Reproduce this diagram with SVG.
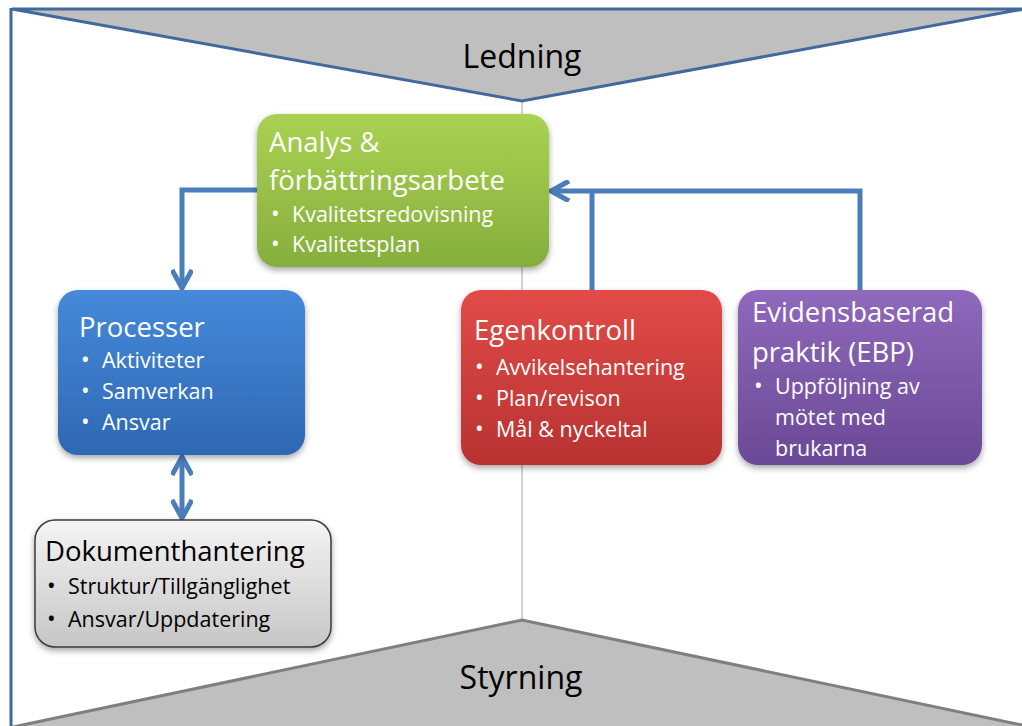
<svg xmlns="http://www.w3.org/2000/svg" width="1022" height="726" viewBox="0 0 1022 726">
<style>
  .t{font-family:"Open Sans","Noto Sans","DejaVu Sans",sans-serif;fill:#fff}
  .h{font-size:27.5px}
  .b{font-size:21.5px}
  .d{font-size:23px}
  .dk{fill:#000}
  .big{font-family:"Open Sans","Noto Sans",sans-serif;font-size:32px;fill:#000}
  .conn{fill:none;stroke:#4a7ebb;stroke-width:5}
</style>
<defs>
  <filter id="sh" x="-10%" y="-10%" width="120%" height="130%">
    <feDropShadow dx="0" dy="3" stdDeviation="3" flood-color="#000" flood-opacity="0.35"/>
  </filter>
  <linearGradient id="gG" x1="0" y1="0" x2="0" y2="1"><stop offset="0" stop-color="#a9d253"/><stop offset="1" stop-color="#86ae3c"/></linearGradient>
  <linearGradient id="gB" x1="0" y1="0" x2="0" y2="1"><stop offset="0" stop-color="#4689da"/><stop offset="1" stop-color="#2e68b3"/></linearGradient>
  <linearGradient id="gR" x1="0" y1="0" x2="0" y2="1"><stop offset="0" stop-color="#e24b48"/><stop offset="1" stop-color="#b83231"/></linearGradient>
  <linearGradient id="gP" x1="0" y1="0" x2="0" y2="1"><stop offset="0" stop-color="#8f69bc"/><stop offset="1" stop-color="#6a4995"/></linearGradient>
  <linearGradient id="gK" x1="0" y1="0" x2="0" y2="1"><stop offset="0" stop-color="#f4f4f4"/><stop offset="1" stop-color="#c6c6c6"/></linearGradient>
  <marker id="ah" markerUnits="userSpaceOnUse" viewBox="0 0 22 22" refX="20" refY="11" markerWidth="22" markerHeight="22" orient="auto-start-reverse">
    <path d="M2,1 L20,11 L2,21" fill="none" stroke="#4a7ebb" stroke-width="5"/>
  </marker>
</defs>
<rect width="1022" height="726" fill="#fff"/>
<g id="frame">
  <line x1="522" y1="101" x2="522" y2="620" stroke="#a6a6a6" stroke-width="1"/>
  <polygon points="12,9 1024,9 522,101" fill="#bfbfbf" stroke="#41699c" stroke-width="3"/>
  <line x1="11" y1="8" x2="11" y2="726" stroke="#41699c" stroke-width="3"/>
  <polygon points="8,728 522,620 1036,728" fill="#bfbfbf" stroke="#7f7f7f" stroke-width="3"/>
  <text class="big" x="522" y="68" text-anchor="middle">Ledning</text>
  <text class="big" x="521" y="689" text-anchor="middle">Styrning</text>
</g>
<g id="connectors">
  <polyline class="conn" points="257,190 182,190 182,288" marker-end="url(#ah)"/>
  <line class="conn" x1="182" y1="457" x2="182" y2="518" marker-start="url(#ah)" marker-end="url(#ah)"/>
  <line class="conn" x1="592" y1="291" x2="592" y2="191"/>
  <polyline class="conn" points="860,291 860,191 551,191" marker-end="url(#ah)"/>
</g>
<g id="analys">
  <rect x="257" y="114" width="292" height="153" rx="20" fill="url(#gG)" filter="url(#sh)"/>
  <text class="t h" x="269" y="152">Analys &amp;</text>
  <text class="t h" x="269" y="190">förbättringsarbete</text>
  <text class="t d" x="271" y="222">•</text><text class="t b" x="292" y="222">Kvalitetsredovisning</text>
  <text class="t d" x="271" y="252">•</text><text class="t b" x="292" y="252">Kvalitetsplan</text>
</g>
<g id="processer">
  <rect x="58" y="290" width="247" height="165" rx="20" fill="url(#gB)" filter="url(#sh)"/>
  <text class="t h" x="79" y="337">Processer</text>
  <text class="t d" x="81" y="368">•</text><text class="t b" x="102" y="368">Aktiviteter</text>
  <text class="t d" x="81" y="399">•</text><text class="t b" x="102" y="399">Samverkan</text>
  <text class="t d" x="81" y="430">•</text><text class="t b" x="102" y="430">Ansvar</text>
</g>
<g id="egenkontroll">
  <rect x="461" y="290" width="261" height="175" rx="20" fill="url(#gR)" filter="url(#sh)"/>
  <text class="t h" x="474" y="340">Egenkontroll</text>
  <text class="t d" x="475" y="375">•</text><text class="t b" x="496" y="375">Avvikelsehantering</text>
  <text class="t d" x="475" y="406">•</text><text class="t b" x="496" y="406">Plan/revison</text>
  <text class="t d" x="475" y="437">•</text><text class="t b" x="496" y="437">Mål &amp; nyckeltal</text>
</g>
<g id="ebp">
  <rect x="738" y="290" width="244" height="175" rx="20" fill="url(#gP)" filter="url(#sh)"/>
  <text class="t h" x="752" y="322">Evidensbaserad</text>
  <text class="t h" x="752" y="362">praktik (EBP)</text>
  <text class="t d" x="754" y="394">•</text><text class="t b" x="775" y="394">Uppföljning av</text>
  <text class="t b" x="775" y="425">mötet med</text>
  <text class="t b" x="775" y="456">brukarna</text>
</g>
<g id="dokument">
  <rect x="35" y="520" width="296" height="127" rx="20" fill="url(#gK)" stroke="#3a3a3a" stroke-width="1.5" filter="url(#sh)"/>
  <text class="t h dk" x="45" y="561">Dokumenthantering</text>
  <text class="t d dk" x="47" y="594">•</text><text class="t b dk" x="68" y="594">Struktur/Tillgänglighet</text>
  <text class="t d dk" x="47" y="627">•</text><text class="t b dk" x="68" y="627">Ansvar/Uppdatering</text>
</g>
</svg>
